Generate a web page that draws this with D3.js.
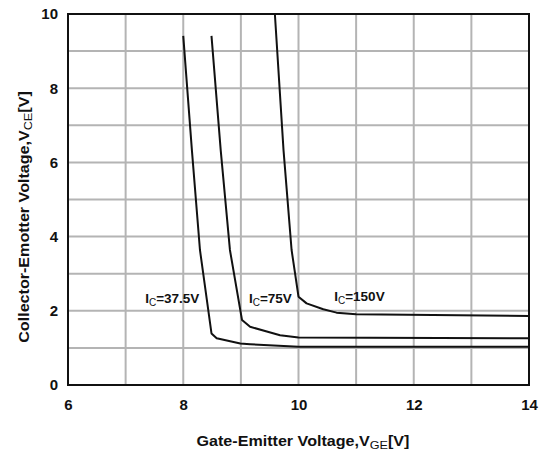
<!DOCTYPE html>
<html>
<head>
<meta charset="utf-8">
<script src="https://cdn.jsdelivr.net/npm/d3@7"></script>
<style>
  body { margin: 0; background: #fff; }
  svg { display: block; font-family: "Liberation Sans", Arial, sans-serif; }
</style>
</head>
<body>
<svg id="chart" width="541" height="457"></svg>
<script>
// Axis ticks
const xTicks = [6, 8, 10, 12, 14];
const yTicks = [0, 2, 4, 6, 8, 10];

// VCE vs VGE curves for three collector currents
const vge375 = [8.0, 8.15, 8.29, 8.49, 8.58, 8.99, 9.16, 10.0, 14.0];
const vce375 = [9.41, 6.33, 3.64, 1.39, 1.26, 1.12, 1.10, 1.03, 1.03];

const vge75 = [8.49, 8.65, 8.81, 9.02, 9.16, 9.45, 9.68, 10.0, 14.0];
const vce75 = [9.41, 6.33, 3.64, 1.75, 1.57, 1.44, 1.34, 1.28, 1.26];

const vge150 = [9.59, 9.74, 9.88, 10.0, 10.14, 10.43, 10.66, 11.0, 14.0];
const vce150 = [10.0, 6.33, 3.64, 2.38, 2.20, 2.04, 1.95, 1.91, 1.86];

// Curve labels: current text and baseline-left anchor in data units
const labelCurrents = ["37.5V", "75V", "150V"];
const labelX = [7.34, 9.14, 10.62];
const labelY = [2.21, 2.21, 2.26];

const svg = d3.select("#chart");
const plotL = 68, plotR = 529, plotT = 14, plotB = 385;

const x = d3.scaleLinear().domain([6, 14]).range([plotL, plotR]);
const y = d3.scaleLinear().domain([0, 10]).range([plotB, plotT]);

// Grid lines every 1 V
const g = svg.append("g");
g.selectAll(".gx").data(d3.range(7, 14)).join("line")
  .attr("x1", d => x(d)).attr("x2", d => x(d))
  .attr("y1", plotT).attr("y2", plotB)
  .attr("stroke", "#b4b4b4").attr("stroke-width", 2);
g.selectAll(".gy").data(d3.range(1, 10)).join("line")
  .attr("y1", d => y(d)).attr("y2", d => y(d))
  .attr("x1", plotL).attr("x2", plotR)
  .attr("stroke", "#b4b4b4").attr("stroke-width", 2);

// Curves
const line = d3.line().x(d => x(d[0])).y(d => y(d[1])).curve(d3.curveLinear);
const series = [
  d3.zip(vge375, vce375),
  d3.zip(vge75, vce75),
  d3.zip(vge150, vce150)
];
svg.append("g").selectAll("path").data(series).join("path")
  .attr("d", line)
  .attr("fill", "none")
  .attr("stroke", "#111")
  .attr("stroke-width", 2)
  .attr("stroke-linejoin", "round");

// Frame
svg.append("rect")
  .attr("x", plotL).attr("y", plotT)
  .attr("width", plotR - plotL).attr("height", plotB - plotT)
  .attr("fill", "none").attr("stroke", "#111").attr("stroke-width", 2);

// Axes (labels only)
const xAxis = d3.axisBottom(x).tickValues(xTicks).tickSize(0).tickPadding(14);
const yAxis = d3.axisLeft(y).tickValues(yTicks).tickSize(0).tickPadding(10);
const gx = svg.append("g").attr("transform", `translate(0,${plotB})`).call(xAxis);
const gy = svg.append("g").attr("transform", `translate(${plotL},0)`).call(yAxis);
[gx, gy].forEach(a => {
  a.select(".domain").remove();
  a.selectAll("text").attr("font-size", 15).attr("font-weight", "bold")
    .attr("fill", "#111").attr("font-family", "Liberation Sans, Arial, sans-serif");
});

// Curve labels
const lbl = svg.append("g").attr("font-size", 13.5).attr("font-weight", "bold").attr("fill", "#111");
labelCurrents.forEach((c, i) => {
  const t = lbl.append("text").attr("x", x(labelX[i])).attr("y", y(labelY[i]));
  t.append("tspan").text("I");
  t.append("tspan").attr("font-size", 10).attr("font-weight", "normal").attr("dy", 3).text("C");
  t.append("tspan").attr("dy", -3).text("=" + c);
});

// Axis titles (slightly widened lettering)
const xt = svg.append("text").attr("transform", "translate(303,446) scale(1.15,1)")
  .attr("text-anchor", "middle").attr("font-size", 14).attr("font-weight", "bold").attr("fill", "#111");
xt.append("tspan").text("Gate-Emitter Voltage,V");
xt.append("tspan").attr("font-size", 11).attr("font-weight", "normal").attr("dy", 3).text("GE");
xt.append("tspan").attr("dy", -3).text("[V]");

const yt = svg.append("text").attr("transform", "translate(29,217) rotate(-90) scale(1.15,1)")
  .attr("text-anchor", "middle").attr("font-size", 14).attr("font-weight", "bold").attr("fill", "#111");
yt.append("tspan").text("Collector-Emotter Voltage,V");
yt.append("tspan").attr("font-size", 11).attr("font-weight", "normal").attr("dy", 3).text("CE");
yt.append("tspan").attr("dy", -3).text("[V]");
</script>
</body>
</html>
